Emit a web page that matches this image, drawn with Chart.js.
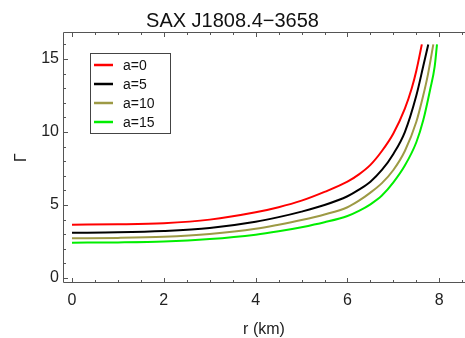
<!DOCTYPE html>
<html>
<head>
<meta charset="utf-8">
<script src="https://cdn.jsdelivr.net/npm/chart.js@4/dist/chart.umd.min.js"></script>
<style>
  html, body { margin: 0; padding: 0; background: #fff; }
  #wrap { width: 465px; height: 338px; }
</style>
</head>
<body>
<div id="wrap"><canvas id="myChart" width="465" height="338"></canvas></div>
<script>
// values: r (km) and adiabatic index for each a
var seriesLabels = ['a=0', 'a=5', 'a=10', 'a=15'];
var seriesColors = ['#ff0000', '#000000', '#9d9a45', '#00ee00'];

var rA0 = [0, 1, 2, 3, 4, 4.5, 5, 5.5, 6, 6.25, 6.5, 6.75, 7, 7.25, 7.4, 7.5, 7.62];
var gA0 = [3.65, 3.68, 3.76, 4.0, 4.5, 4.85, 5.3, 5.9, 6.6, 7.1, 7.75, 8.7, 9.9, 11.6, 13.0, 14.2, 16.0];

var rA5 = [0, 1, 2, 3, 4, 4.5, 5, 5.5, 6, 6.25, 6.5, 6.75, 7, 7.25, 7.5, 7.65, 7.76];
var gA5 = [3.1, 3.13, 3.22, 3.42, 3.85, 4.17, 4.55, 5.0, 5.6, 6.05, 6.6, 7.4, 8.5, 10.0, 12.5, 14.5, 16.0];

var rA10 = [0, 1, 2, 3, 4, 4.5, 5, 5.5, 6, 6.25, 6.5, 6.75, 7, 7.25, 7.5, 7.65, 7.75, 7.87];
var gA10 = [2.72, 2.75, 2.83, 3.02, 3.37, 3.65, 3.97, 4.35, 4.85, 5.3, 5.85, 6.5, 7.4, 8.7, 10.7, 12.5, 13.9, 16.0];

var rA15 = [0, 1, 2, 3, 4, 4.5, 5, 5.5, 6, 6.25, 6.5, 6.75, 7, 7.25, 7.5, 7.65, 7.8, 7.9, 7.95];
var gA15 = [2.42, 2.44, 2.5, 2.67, 2.97, 3.2, 3.48, 3.82, 4.25, 4.6, 5.05, 5.65, 6.55, 7.7, 9.3, 10.8, 12.9, 14.5, 16.0];

var rSets = [rA0, rA5, rA10, rA15];
var gSets = [gA0, gA5, gA10, gA15];

function toPoints(rs, gs) {
    return rs.map(function (r, i) { return {x: r, y: gs[i]}; });
}

var FONT = "'Liberation Sans', Arial, sans-serif";

// Mathematica-style frame with inward ticks
var framePlugin = {
    id: 'frame',
    afterDraw: function (chart) {
        var ctx = chart.ctx, a = chart.chartArea;
        var x = chart.scales.x, y = chart.scales.y;
        ctx.save();
        ctx.strokeStyle = '#555';
        ctx.lineWidth = 1;
        ctx.beginPath();
        ctx.moveTo(a.right, a.top + 0.5);
        ctx.lineTo(a.left + 0.5, a.top + 0.5);
        ctx.lineTo(a.left + 0.5, a.bottom - 0.5);
        ctx.lineTo(a.right, a.bottom - 0.5);
        ctx.stroke();

        ctx.beginPath();
        for (var v = 0; v <= 8.5; v += 0.5) {
            var px = Math.round(x.getPixelForValue(v)) + 0.5;
            var len = (v % 2 === 0) ? 5 : 3;
            ctx.moveTo(px, a.bottom);
            ctx.lineTo(px, a.bottom - len);
            ctx.moveTo(px, a.top);
            ctx.lineTo(px, a.top + len);
        }
        for (var w = 0; w <= 16; w += 1) {
            var py = Math.round(y.getPixelForValue(w)) + 0.5;
            var l2 = (w % 5 === 0) ? 5 : 3;
            ctx.moveTo(a.left, py);
            ctx.lineTo(a.left + l2, py);
        }
        ctx.stroke();
        ctx.restore();
    }
};

// boxed legend inside the plot
var legendPlugin = {
    id: 'boxLegend',
    afterDraw: function (chart) {
        var ctx = chart.ctx;
        var bx = 90.5, by = 53.5, bw = 80, bh = 80;
        ctx.save();
        ctx.fillStyle = '#fff';
        ctx.fillRect(bx, by, bw, bh);
        ctx.strokeStyle = '#444';
        ctx.lineWidth = 1;
        ctx.strokeRect(bx, by, bw, bh);
        ctx.font = '14px ' + FONT;
        ctx.textBaseline = 'middle';
        chart.data.datasets.forEach(function (ds, i) {
            var ry = 65 + i * 19;
            ctx.strokeStyle = ds.borderColor;
            ctx.lineWidth = 2.5;
            ctx.beginPath();
            ctx.moveTo(94, ry);
            ctx.lineTo(113, ry);
            ctx.stroke();
            ctx.fillStyle = '#111';
            ctx.fillText(ds.label, 123, ry + 1);
        });
        ctx.restore();
    }
};

var ctx = document.getElementById('myChart').getContext('2d');
var myChart = new Chart(ctx, {
    type: 'scatter',
    data: {
        datasets: seriesLabels.map(function (lab, i) {
            return {
                label: lab,
                data: toPoints(rSets[i], gSets[i]),
                showLine: true,
                borderColor: seriesColors[i],
                backgroundColor: seriesColors[i],
                borderWidth: 2,
                pointRadius: 0,
                cubicInterpolationMode: 'monotone',
                fill: false
            };
        })
    },
    options: {
        responsive: false,
        animation: false,
        layout: {padding: {left: 0, right: 0, top: 0, bottom: 0}},
        plugins: {
            legend: {display: false},
            tooltip: {enabled: false},
            title: {
                display: true,
                text: 'SAX J1808.4\u22123658',
                color: '#111',
                font: {family: FONT, size: 20, weight: 'normal', lineHeight: 1},
                padding: {top: 11, bottom: 1}
            }
        },
        scales: {
            x: {
                type: 'linear',
                min: -0.196,
                max: 8.56,
                grid: {display: false, drawTicks: false},
                border: {display: false},
                afterFit: function (s) { s.height = 55; },
                ticks: {
                    stepSize: 2,
                    includeBounds: false,
                    padding: 8,
                    color: '#222',
                    font: {family: FONT, size: 16}
                },
                title: {
                    display: true,
                    text: 'r (km)',
                    color: '#222',
                    font: {family: FONT, size: 16, lineHeight: 1},
                    padding: {top: 0, bottom: 0}
                }
            },
            y: {
                type: 'linear',
                min: -0.34,
                max: 16.85,
                grid: {display: false, drawTicks: false},
                border: {display: false},
                afterFit: function (s) { s.width = 63; },
                ticks: {
                    stepSize: 5,
                    includeBounds: false,
                    padding: 4,
                    color: '#222',
                    font: {family: FONT, size: 16}
                },
                title: {
                    display: true,
                    text: '\u0393',
                    color: '#222',
                    font: {family: FONT, size: 16, lineHeight: 1.2},
                    padding: {top: 12, bottom: 0}
                }
            }
        }
    },
    plugins: [framePlugin, legendPlugin]
});
</script>
</body>
</html>
